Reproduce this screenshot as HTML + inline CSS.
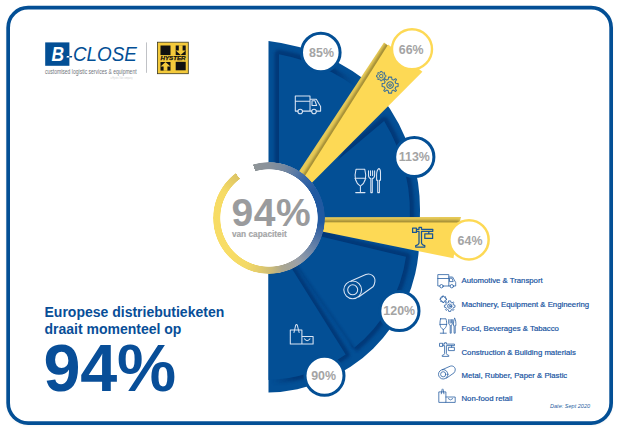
<!DOCTYPE html>
<html>
<head>
<meta charset="utf-8">
<style>
  html, body { margin: 0; padding: 0; background: #ffffff; }
  body { width: 618px; height: 429px; position: relative; overflow: hidden;
         font-family: "Liberation Sans", sans-serif; }
  svg.chart { position: absolute; left: 0; top: 0; }
  .t { position: absolute; white-space: nowrap; line-height: 1; }
  .ring { position: absolute; left: 213px; top: 161.5px; width: 112px; height: 112px; border-radius: 50%;
          background: conic-gradient(from -16.5deg at 50% 50%,
             #8f9598 0deg, #88919b 16.5deg, #76889f 33.5deg, #5a7aa5 46.5deg, #3a67a6 58.5deg, #2059a1 76.5deg,
             #2059a1 111.5deg, #3d68a4 121.5deg, #6e86a8 142.5deg, #9aa0a8 162.5deg, #aaa690 181.5deg,
             #c8b97a 192.5deg, #e2cb6c 206.5deg, #f3d966 221.5deg, #f8dd66 246.5deg,
             #f6db65 316.5deg, #dcc465 339.8deg, rgba(255,255,255,0) 340deg, rgba(255,255,255,0) 360deg);
          -webkit-mask-image: radial-gradient(circle at 50% 50%, transparent 48.4px, #000 49px, #000 55.7px, transparent 56.3px);
          mask-image: radial-gradient(circle at 50% 50%, transparent 48.4px, #000 49px, #000 55.7px, transparent 56.3px); }
  .h1 { left: 44.5px; font-size: 14px; font-weight: bold; color: #084e98; }
  .lg { left: 461.5px; font-size: 7.77px; color: #1552a0; -webkit-text-stroke: 0.18px #1552a0; }
</style>
</head>
<body>

<svg class="chart" width="618" height="429" viewBox="0 0 618 429">
  <defs>
    <filter id="blur2" x="-20%" y="-20%" width="140%" height="140%"><feGaussianBlur stdDeviation="1.7"/></filter>
    <filter id="blur07" x="-20%" y="-20%" width="140%" height="140%"><feGaussianBlur stdDeviation="0.8"/></filter>
    <filter id="blur07u" filterUnits="userSpaceOnUse" x="270" y="205" width="200" height="40"><feGaussianBlur stdDeviation="0.8"/></filter>
    <filter id="blur1" x="-20%" y="-20%" width="140%" height="140%"><feGaussianBlur stdDeviation="1"/></filter>
    <linearGradient id="fadeL" gradientUnits="userSpaceOnUse" x1="272" y1="0" x2="296" y2="0">
      <stop offset="0" stop-color="#052a66" stop-opacity="0"/><stop offset="1" stop-color="#052a66" stop-opacity="1"/>
    </linearGradient>
    <linearGradient id="fadeR" gradientUnits="userSpaceOnUse" x1="334" y1="0" x2="354" y2="0">
      <stop offset="0" stop-color="#052a66" stop-opacity="1"/><stop offset="1" stop-color="#052a66" stop-opacity="0"/>
    </linearGradient>
    <clipPath id="w66clip"><polygon points="263.2,225.4 384,42.4 420,71"/></clipPath>
    <clipPath id="blueclip">
      <path d="M268.5,41 A201.3,201.3 0 0 1 376,88.8 L269,217.5 L380,95.1 A185,185 0 0 1 419.4,225 L269,217.5 L419.1,245 A153.5,153.5 0 0 1 268.5,392.4 Z"/>
    </clipPath>
  </defs>

  <!-- frame -->
  <rect x="8.15" y="8.6" width="603" height="415.35" rx="20" ry="20" fill="none" stroke="#9a9a9a" stroke-width="3.4" opacity="0.12" filter="url(#blur1)"/>
  <rect x="8.15" y="7.7" width="603" height="415.35" rx="20" ry="20" fill="#ffffff" stroke="#034f95" stroke-width="3.7"/>

  <!-- blue base sectors -->
  <path fill="#034f95" d="M268.5,41 A201.3,201.3 0 0 1 376,88.8 L269,217.5 L380,95.1 A185,185 0 0 1 419.4,225 L269,217.5 L419.1,245 A153.5,153.5 0 0 1 268.5,392.4 Z"/>

  <!-- embossed inner sectors -->
  <g clip-path="url(#blueclip)">
    <g fill="none" stroke="#052a66" stroke-width="9" stroke-linejoin="round" filter="url(#blur2)" opacity="0.6">
      <path stroke="url(#fadeR)" d="M279,230 L279,54.2 A190,190 0 0 1 376,104.1 L290,230 Z"/>
      <path d="M285,204.2 L384.1,121 A174,174 0 0 1 409,230 L285,230 Z"/>
      <path d="M300,231.4 L406,256.8 A142,142 0 0 1 354,348"/>
    </g>
    <g fill="#034f95">
      <path d="M279,230 L279,54.2 A190,190 0 0 1 376,104.1 L290,230 Z"/>
      <path d="M285,204.2 L384.1,121 A174,174 0 0 1 409,230 L285,230 Z"/>
      <path d="M300,231.4 L406,256.8 A142,142 0 0 1 354,348 L290,255.5 Z"/>
    </g>
    <path fill="none" stroke="#052a66" stroke-width="1.6" filter="url(#blur1)" opacity="0.35" d="M354,348 L290,255.5"/>
    <g fill="none" stroke-width="8" stroke-linejoin="round" filter="url(#blur2)" opacity="0.6">
      <path stroke="url(#fadeL)" d="M283,254.5 L345.7,354.5 A141,141 0 0 1 255,379.5 L255,254 Z"/>
    </g>
    <path fill="#034f95" d="M283,254.5 L345.7,354.5 A141,141 0 0 1 255,379.5 L255,254 Z"/>
  </g>

  <!-- yellow wedge 66% -->
  <polygon fill="#e6c957" points="263.2,225.4 384,42.4 420,71"/>
  <g clip-path="url(#w66clip)"><path d="M280.8,214 L388.2,44.5 L394,49.1" fill="none" stroke="#9c8733" stroke-width="5" filter="url(#blur07)" opacity="0.9"/></g>
  <polygon fill="#fdd955" points="280.8,214 388.2,44.5 422.4,71.7"/>

  <!-- yellow wedge 64% -->
  <polygon fill="#e6c957" points="285,217.2 461,217 458.8,225 285,225"/>
  <polygon points="285,220 459.5,220.2 458.8,225 285,225" fill="#9c8733" filter="url(#blur07u)" opacity="0.9"/>
  <polygon fill="#fdd955" points="276.6,222.2 458.8,222.4 453.5,258.3"/>

  <!-- centre white disc -->
  <circle cx="269" cy="217.5" r="55" fill="#ffffff"/>

  <!-- badges -->
  <g fill="#ffffff" stroke-width="3">
    <circle cx="320.8" cy="52.5" r="19.3" stroke="#034f95"/>
    <circle cx="414.3" cy="157" r="19.6" stroke="#034f95"/>
    <circle cx="399.4" cy="311" r="19.6" stroke="#034f95"/>
    <circle cx="324.5" cy="375.8" r="19.5" stroke="#034f95"/>
    <circle cx="412" cy="49.2" r="20" stroke="#fdd955" stroke-width="2.4"/>
    <circle cx="469" cy="239.8" r="19.65" stroke="#fdd955" stroke-width="2.5"/>
  </g>
  <g font-family="Liberation Sans, sans-serif" font-weight="bold" font-size="12.4" fill="#a4a4a4" text-anchor="middle">
    <text x="321.5" y="56.8">85%</text>
    <text x="414.3" y="161.3">113%</text>
    <text x="399.2" y="314.7">120%</text>
    <text x="323.6" y="379.6">90%</text>
    <text x="411.2" y="53.5">66%</text>
    <text x="470" y="244.6">64%</text>
  </g>

  <!-- icons on chart -->
  <g id="ic-truck" fill="none" stroke="#dbe5f4" stroke-width="1.05" stroke-linejoin="round" stroke-linecap="round">
    <path d="M298,111.1 H295.3 V96 H310 V111.1 H302.6 M295.3,101.3 H310 M310,99.3 H316.3 L320.6,106.6 V111.1 H316.4 M311.6,111.1 H310 M312,100.8 H315 L316.6,105.5 H312 Z"/>
    <circle cx="300.2" cy="111.5" r="2.3"/>
    <circle cx="314" cy="111.5" r="2.3"/>
  </g>
  <g id="ic-food" fill="none" stroke="#dbe5f4" stroke-width="1.05" stroke-linejoin="round" stroke-linecap="round">
    <path d="M356,169.3 H364.8 C366.6,176 366.6,182 360.4,186.1 C354.2,182 354.2,176 356,169.3 Z M354.9,178.2 H365.9 M360.4,186.1 V192.6 M355.7,192.6 H365"/>
    <path d="M368.5,170.7 V175.5 C368.5,177.6 369.6,178.3 370.8,178.6 V192.6 H372.3 V178.6 C373.5,178.3 374.6,177.6 374.6,175.5 V170.7 M370.5,170.7 V175.5 M372.6,170.7 V175.5"/>
    <path d="M378.9,168.5 Q380.5,169.2 380.5,172.5 V180.2 H379.4 V192.6 H377.7 V180.2 H376.6 V174.5 Q376.8,169.8 378.9,168.5 Z"/>
  </g>
  <g id="ic-tube" fill="none" stroke="#dbe5f4" stroke-width="1.05" stroke-linejoin="round" stroke-linecap="round">
    <circle cx="352.7" cy="289.8" r="8.9"/>
    <circle cx="352.7" cy="289.8" r="5"/>
    <path d="M351,281.1 L365.8,274.6 C370.5,272.6 375.6,276.5 374.9,281.6 C374.6,283.8 374.1,285.6 373,286.8 L358.6,297"/>
  </g>
  <g id="ic-bag" fill="none" stroke="#dbe5f4" stroke-width="1.05" stroke-linejoin="round" stroke-linecap="round">
    <path d="M290.3,329.9 H301.9 V343.9 H290.3 Z M294,332.5 L295.6,325.5 Q296.5,323.6 297.4,325.5 L299.1,332.5 M301.9,336.5 H313.1 V343.9 H301.9 M304.4,338.8 Q307.2,342.6 310,338.8"/>
  </g>

  <!-- gears on yellow -->
  <g id="ic-gears" fill="none" stroke="#3a6f98" stroke-width="1.05" stroke-linejoin="round">
    <g transform="translate(390.1,85.1)">
      <path id="gearbig" d="M-1.5,-8 L1.5,-8 L1.9,-5.6 L3.4,-5 L5.4,-6.4 L6.4,-5.4 L5,-3.4 L5.6,-1.9 L8,-1.5 L8,1.5 L5.6,1.9 L5,3.4 L6.4,5.4 L5.4,6.4 L3.4,5 L1.9,5.6 L1.5,8 L-1.5,8 L-1.9,5.6 L-3.4,5 L-5.4,6.4 L-6.4,5.4 L-5,3.4 L-5.6,1.9 L-8,1.5 L-8,-1.5 L-5.6,-1.9 L-5,-3.4 L-6.4,-5.4 L-5.4,-6.4 L-3.4,-5 L-1.9,-5.6 Z"/>
      <circle r="3.3"/><circle r="1.2"/>
    </g>
    <g transform="translate(381.2,76.1) scale(0.58)" stroke-width="1.7">
      <path d="M-1.5,-8 L1.5,-8 L1.9,-5.6 L3.4,-5 L5.4,-6.4 L6.4,-5.4 L5,-3.4 L5.6,-1.9 L8,-1.5 L8,1.5 L5.6,1.9 L5,3.4 L6.4,5.4 L5.4,6.4 L3.4,5 L1.9,5.6 L1.5,8 L-1.5,8 L-1.9,5.6 L-3.4,5 L-5.4,6.4 L-6.4,5.4 L-5,3.4 L-5.6,1.9 L-8,1.5 L-8,-1.5 L-5.6,-1.9 L-5,-3.4 L-6.4,-5.4 L-5.4,-6.4 L-3.4,-5 L-1.9,-5.6 Z"/>
      <circle r="3"/>
    </g>
  </g>

  <!-- crane on yellow -->
  <g id="ic-crane" fill="none" stroke="#1a5594" stroke-width="1.25" stroke-linejoin="round">
    <path d="M412.6,228.2 H416.4 V232.4 H412.6 Z M416.4,229.3 H419 V227.3 H421.5 V229.3 H432.8 V231.3 H421.5 V243 Q421.8,245 424.8,245.6 V247 H415.7 V245.6 Q418.7,245 419,243 V231.3 H416.4 M428.8,231.3 V233.8 M424.8,233.8 H432.6 V238.4 H424.8 Z"/>
  </g>

  <!-- legend icons -->
  <g fill="none" stroke="#2a5fa2" stroke-width="0.8" stroke-linejoin="round" stroke-linecap="round">
    <!-- truck -->
    <path d="M439.8,286 H437.8 V274.6 H448.8 V286 H443.3 M437.8,278.5 H448.8 M448.8,277 H452.6 L455.7,282.5 V286 H453.6 M450.1,286 H448.8 M449.9,278.2 H452 L453.2,281.6 H449.9 Z"/>
    <circle cx="441.5" cy="286.2" r="1.7"/><circle cx="451.8" cy="286.2" r="1.7"/>
    <!-- gears -->
    <g transform="translate(449.7,306.2) scale(0.66)" stroke-width="1.2">
      <path d="M-1.5,-8 L1.5,-8 L1.9,-5.6 L3.4,-5 L5.4,-6.4 L6.4,-5.4 L5,-3.4 L5.6,-1.9 L8,-1.5 L8,1.5 L5.6,1.9 L5,3.4 L6.4,5.4 L5.4,6.4 L3.4,5 L1.9,5.6 L1.5,8 L-1.5,8 L-1.9,5.6 L-3.4,5 L-5.4,6.4 L-6.4,5.4 L-5,3.4 L-5.6,1.9 L-8,1.5 L-8,-1.5 L-5.6,-1.9 L-5,-3.4 L-6.4,-5.4 L-5.4,-6.4 L-3.4,-5 L-1.9,-5.6 Z"/>
      <circle r="3.3"/><circle r="1.2"/>
    </g>
    <g transform="translate(443.3,299.3) scale(0.4)" stroke-width="2.4">
      <path d="M-1.5,-8 L1.5,-8 L1.9,-5.6 L3.4,-5 L5.4,-6.4 L6.4,-5.4 L5,-3.4 L5.6,-1.9 L8,-1.5 L8,1.5 L5.6,1.9 L5,3.4 L6.4,5.4 L5.4,6.4 L3.4,5 L1.9,5.6 L1.5,8 L-1.5,8 L-1.9,5.6 L-3.4,5 L-5.4,6.4 L-6.4,5.4 L-5,3.4 L-5.6,1.9 L-8,1.5 L-8,-1.5 L-5.6,-1.9 L-5,-3.4 L-6.4,-5.4 L-5.4,-6.4 L-3.4,-5 L-1.9,-5.6 Z"/>
    </g>
    <!-- food -->
    <path d="M440.6,318.8 H446 C447.2,323.5 447,327.5 443.3,329.6 C439.6,327.5 439.4,323.5 440.6,318.8 Z M439.9,324.4 H446.7 M443.3,329.6 V333.2 M440.3,333.2 H446.3"/>
    <path d="M448.7,319.6 V323 C448.7,324.4 449.5,324.9 450.2,325.1 V333.2 H451.2 V325.1 C451.9,324.9 452.7,324.4 452.7,323 V319.6 M450.1,319.6 V323 M451.4,319.6 V323"/>
    <path d="M454.1,318.4 C455.1,319.2 455.4,322.5 455.3,325.6 H454.6 V333.2 H453.5 V325.6 H452.9 C452.8,322.5 453.1,319.2 454.1,318.4 Z" transform="translate(0.6,0)"/>
    <!-- crane -->
    <path d="M439.9,343.3 H442.7 V346.4 H439.9 Z M442.7,344.1 H444.6 V342.7 H446.4 V344.1 H454.5 V345.6 H446.4 V353.6 Q446.6,355 448.8,355.4 V356.4 H442.2 V355.4 Q444.4,355 444.6,353.6 V345.6 H442.7 M451.6,345.6 V347.3 M448.8,347.3 H454.4 V350.6 H448.8 Z"/>
    <!-- tube -->
    <circle cx="443.2" cy="374.3" r="4.7"/><circle cx="443.2" cy="374.3" r="2.6"/>
    <path d="M442.3,369.7 L450.2,366.2 C452.8,365.2 455.6,367.3 455.2,370 C455,371.2 454.7,372.2 454.1,372.8 L446.4,378.2"/>
    <!-- bag -->
    <path d="M439.2,391.9 H445.9 V402.4 H439.2 Z M441.3,393.8 L442.1,389.5 Q442.6,388.2 443.1,389.5 L443.9,393.8 M445.9,397 H455.2 V402.4 H445.9 M448.2,398.7 Q450.5,401.4 452.8,398.7"/>
  </g>

  <!-- B-CLOSE logo -->
  <rect x="45.2" y="42.4" width="24.2" height="23.4" fill="#034f95"/>
  <text x="51.6" y="60.9" font-family="Liberation Sans, sans-serif" font-weight="bold" font-style="italic" font-size="19.5" fill="#ffffff" textLength="12.6" lengthAdjust="spacingAndGlyphs">B</text>
  <path d="M66.9,55.9 H69.4 V57.6 H66.5 Z" fill="#ffffff"/>
  <path d="M69.4,55.9 H72.3 L71.9,57.6 H69.4 Z" fill="#034f95"/>
  <text x="72.9" y="60.9" font-family="Liberation Sans, sans-serif" font-style="italic" font-size="19.3" fill="#034f95" textLength="64" lengthAdjust="spacingAndGlyphs">CLOSE</text>
  <text x="45" y="74.3" font-family="Liberation Sans, sans-serif" font-size="6.6" fill="#70747a" textLength="91.6" lengthAdjust="spacingAndGlyphs">customised logistic services &amp; equipment</text>
  <text x="110.5" y="79" font-family="Liberation Sans, sans-serif" font-size="3" fill="#cfcfcf" textLength="22" lengthAdjust="spacingAndGlyphs">a Hyster-Yale company</text>
  <rect x="146" y="42.4" width="0.9" height="30.4" fill="#b9bcc0"/>

  <!-- Hyster logo -->
  <g>
    <rect x="157.4" y="42.2" width="30.9" height="31.5" fill="#f4ca3b" stroke="#3c3a22" stroke-width="0.8"/>
    <rect x="160.5" y="45.5" width="10" height="9.6" fill="#111"/>
    <rect x="175.7" y="45.5" width="10" height="9.6" fill="#111"/>
    <rect x="160.5" y="62" width="10" height="8.6" fill="#111"/>
    <rect x="175.7" y="61.8" width="10" height="8.5" fill="#111"/>
    <path d="M178.8,45.3 H182.6 V50.4 H185.7 L180.7,55 L175.7,50.4 H178.8 Z" fill="#f4ca3b"/>
    <path d="M163.6,70.8 H167.4 V66.5 H170.5 L165.5,62 L160.5,66.5 H163.6 Z" fill="#f4ca3b"/>
    <text x="160.4" y="60.4" font-family="Liberation Sans, sans-serif" font-weight="bold" font-style="italic" font-size="5.5" fill="#111" stroke="#111" stroke-width="0.25" textLength="25.2" lengthAdjust="spacingAndGlyphs">HYSTER</text>
  </g>
</svg>

<div class="ring"></div>

<div class="t" style="left:231.5px; top:193.3px; font-size:39px; font-weight:bold; color:#9a9b9d; letter-spacing:0.5px;">94%</div>
<div class="t" style="left:231.9px; top:230.2px; font-size:8.3px; font-weight:bold; color:#a4a5a6; -webkit-text-stroke:0.15px #a4a5a6;">van capaciteit</div>

<div class="t h1" style="top:304.6px;">Europese distriebutieketen</div>
<div class="t h1" style="top:321.7px;">draait momenteel op</div>
<div class="t" style="left:43.6px; top:335.1px; font-size:66.5px; font-weight:bold; color:#084e98; letter-spacing:-0.3px;">94%</div>

<div class="t lg" style="top:277.2px;">Automotive &amp; Transport</div>
<div class="t lg" style="top:301.2px;">Machinery, Equipment &amp; Engineering</div>
<div class="t lg" style="top:325px;">Food, Beverages &amp; Tabacco</div>
<div class="t lg" style="top:348.7px;">Construction &amp; Building materials</div>
<div class="t lg" style="top:372px;">Metal, Rubber, Paper &amp; Plastic</div>
<div class="t lg" style="top:395.3px;">Non-food retail</div>
<div class="t" style="left:550px; top:404.2px; font-size:5.56px; font-style:italic; color:#2a5fa2;">Date: Sept 2020</div>

</body>
</html>
